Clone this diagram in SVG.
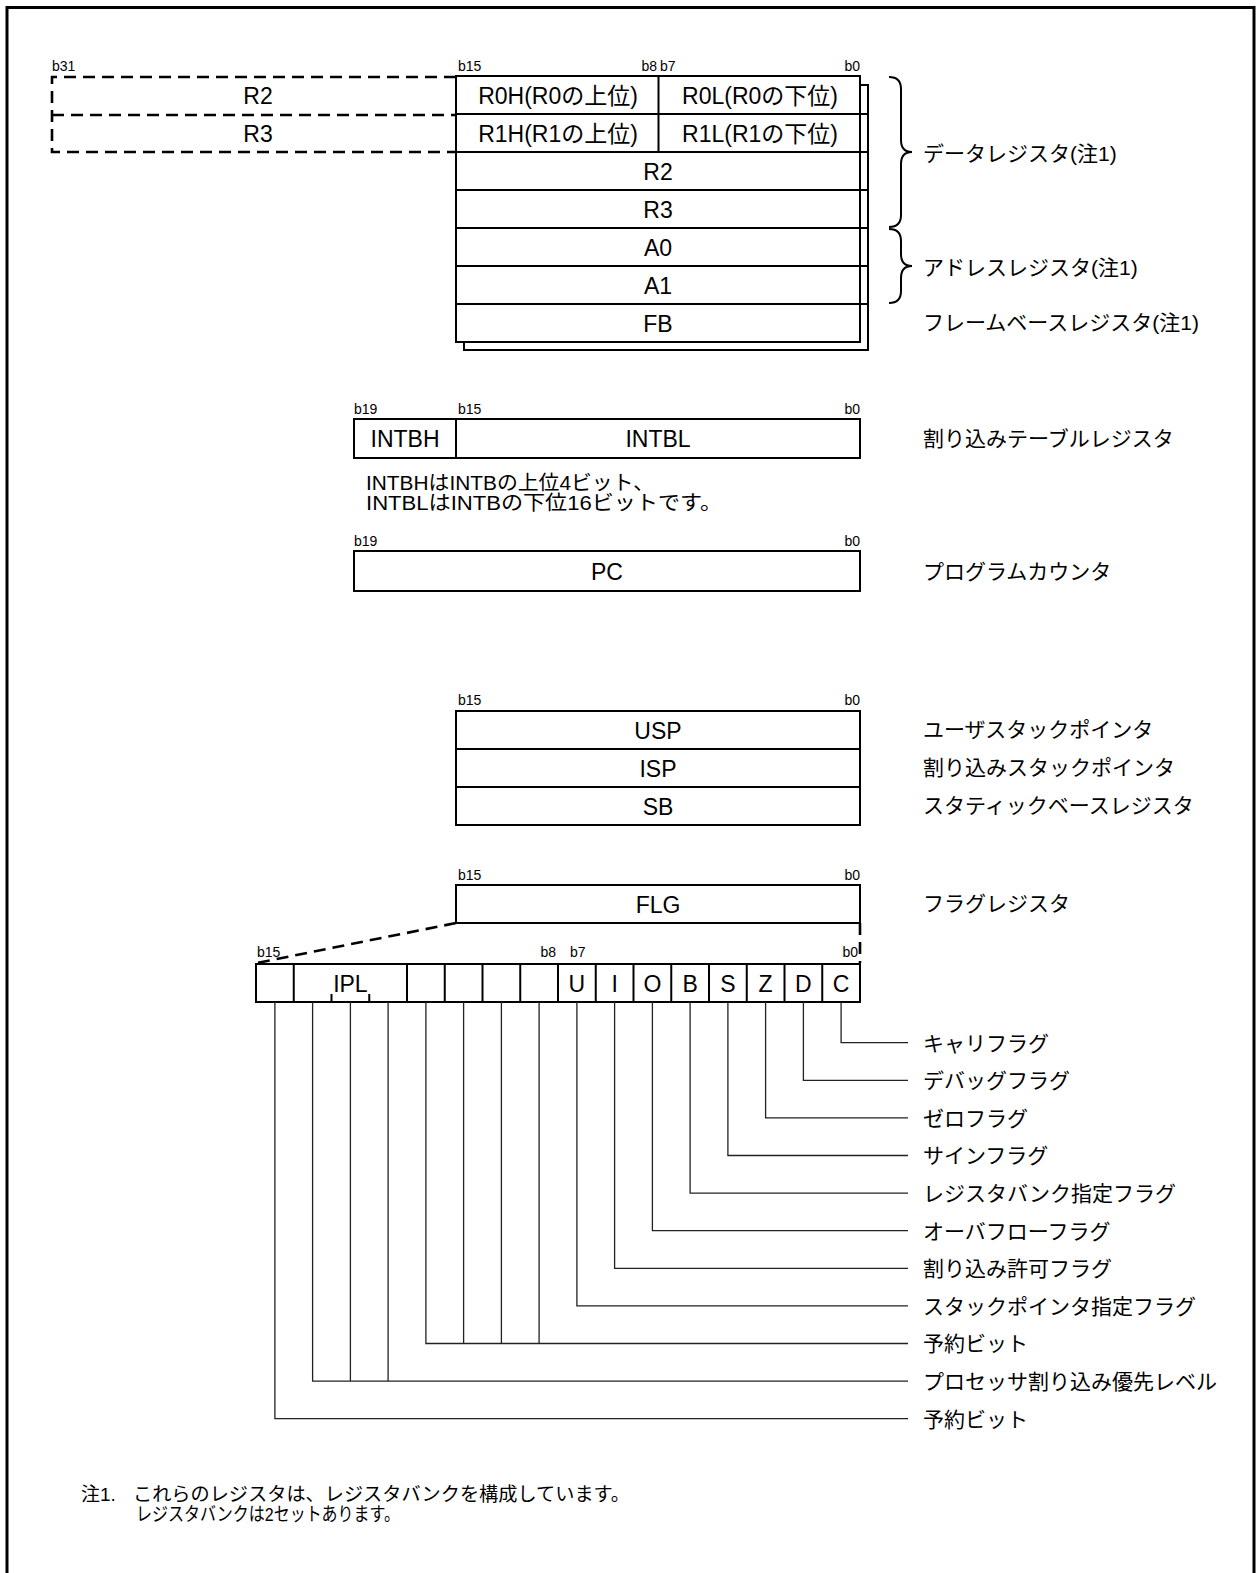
<svg xmlns="http://www.w3.org/2000/svg" width="1259" height="1573" viewBox="0 0 1259 1573">
<defs>
<style>
text{font-family:"Liberation Sans","Noto Sans CJK JP",sans-serif;fill:#000}
.reg{font-size:23px;text-anchor:middle}
.bit{font-size:14px}
.bitr{font-size:14px;text-anchor:end}
.lbl{font-size:21px}
.note{font-size:20.5px}
.fn{font-size:19px}
.box{fill:#fff;stroke:#000;stroke-width:2}
.ln{fill:none;stroke:#000;stroke-width:2}
.dash{fill:none;stroke:#000;stroke-width:2.6;stroke-dasharray:12 7}
.lead{fill:none;stroke:#222;stroke-width:1.3}
</style>
</defs>
<rect x="0" y="0" width="1259" height="1573" fill="#fff"/>
<path d="M7,1573 V7.5 H1254 V1573" fill="none" stroke="#000" stroke-width="3"/>

<g id="bank-shadow">
<rect x="464" y="85" width="404" height="265" class="box"/>
</g>

<g id="data-address-registers">
<rect x="456" y="76" width="404" height="266" class="box"/>
<path class="ln" d="M456,114 H868 M456,152 H868 M456,190 H868 M456,228 H868 M456,266 H868 M456,304 H868 M658.5,76 V152"/>
<text class="reg" x="558" y="103.5">R0H(R0の上位)</text>
<text class="reg" x="760" y="103.5">R0L(R0の下位)</text>
<text class="reg" x="558" y="141.5">R1H(R1の上位)</text>
<text class="reg" x="760" y="141.5">R1L(R1の下位)</text>
<text class="reg" x="658" y="179.5">R2</text>
<text class="reg" x="658" y="217.5">R3</text>
<text class="reg" x="658" y="255.5">A0</text>
<text class="reg" x="658" y="293.5">A1</text>
<text class="reg" x="658" y="331.5">FB</text>
<text class="bit" x="458" y="71">b15</text>
<text class="bitr" x="657" y="71">b8</text>
<text class="bit" x="660" y="71">b7</text>
<text class="bitr" x="860" y="71">b0</text>
</g>

<g id="ext-32bit">
<path class="dash" d="M456,77 H52 V152 H456 M52,115 H456"/>
<text class="reg" x="258" y="103.5">R2</text>
<text class="reg" x="258" y="141.5">R3</text>
<text class="bit" x="52" y="71">b31</text>
</g>

<g id="braces">
<path class="ln" d="M889,77 C897,77 901,81 901,89 L901,140 C901,148 905,152 912,152 C905,152 901,156 901,164 L901,215 C901,223 897,227 889,227"/>
<path class="ln" d="M889,229 C897,229 901,233 901,241 L901,254 C901,262 905,266 912,266 C905,266 901,270 901,278 L901,291 C901,299 897,303 889,303"/>
<text class="lbl" x="923" y="161">データレジスタ(注1)</text>
<text class="lbl" x="923" y="275">アドレスレジスタ(注1)</text>
<text class="lbl" x="923" y="330">フレームベースレジスタ(注1)</text>
</g>

<g id="intb">
<rect x="354" y="419" width="506" height="39" class="box"/>
<path class="ln" d="M456,419 V458"/>
<text class="reg" x="405" y="446.5">INTBH</text>
<text class="reg" x="658" y="446.5">INTBL</text>
<text class="bit" x="354" y="414">b19</text>
<text class="bit" x="458" y="414">b15</text>
<text class="bitr" x="860" y="414">b0</text>
<text class="lbl" x="923" y="446">割り込みテーブルレジスタ</text>
<text class="note" x="366" y="490" textLength="288" lengthAdjust="spacingAndGlyphs">INTBHはINTBの上位4ビット、</text>
<text class="note" x="366" y="510" textLength="356" lengthAdjust="spacingAndGlyphs">INTBLはINTBの下位16ビットです。</text>
</g>

<g id="pc">
<rect x="354" y="551" width="506" height="40" class="box"/>
<text class="reg" x="607" y="579.5">PC</text>
<text class="bit" x="354" y="546">b19</text>
<text class="bitr" x="860" y="546">b0</text>
<text class="lbl" x="923" y="579">プログラムカウンタ</text>
</g>

<g id="stack-pointers">
<rect x="456" y="711" width="404" height="114" class="box"/>
<path class="ln" d="M456,749 H860 M456,787 H860"/>
<text class="reg" x="658" y="738.5">USP</text>
<text class="reg" x="658" y="776.5">ISP</text>
<text class="reg" x="658" y="814.5">SB</text>
<text class="bit" x="458" y="705">b15</text>
<text class="bitr" x="860" y="705">b0</text>
<text class="lbl" x="923" y="737">ユーザスタックポインタ</text>
<text class="lbl" x="923" y="775">割り込みスタックポインタ</text>
<text class="lbl" x="923" y="813">スタティックベースレジスタ</text>
</g>

<g id="flg">
<rect x="456" y="885" width="404" height="38" class="box"/>
<text class="reg" x="658" y="912.5">FLG</text>
<text class="bit" x="458" y="880">b15</text>
<text class="bitr" x="860" y="880">b0</text>
<text class="lbl" x="923" y="911">フラグレジスタ</text>
</g>

<g id="flg-expansion">
<path class="dash" d="M456,923 L257,963 M860,923 V963"/>
</g>

<g id="flg-bits">
<rect x="256" y="964" width="604" height="38" class="box"/>
<path class="ln" d="M293.75,964 V1002 M407,964 V1002 M444.75,964 V1002 M482.5,964 V1002 M520.25,964 V1002 M558,964 V1002 M595.75,964 V1002 M633.5,964 V1002 M671.25,964 V1002 M709,964 V1002 M746.75,964 V1002 M784.5,964 V1002 M822.25,964 V1002 M331.5,994 V1002 M369.25,994 V1002"/>
<text class="reg" x="350.4" y="991.5">IPL</text>
<text class="reg" x="576.9" y="991.5">U</text>
<text class="reg" x="614.6" y="991.5">I</text>
<text class="reg" x="652.4" y="991.5">O</text>
<text class="reg" x="690.1" y="991.5">B</text>
<text class="reg" x="727.9" y="991.5">S</text>
<text class="reg" x="765.6" y="991.5">Z</text>
<text class="reg" x="803.4" y="991.5">D</text>
<text class="reg" x="841.1" y="991.5">C</text>
<text class="bit" x="257" y="957">b15</text>
<text class="bitr" x="556" y="957">b8</text>
<text class="bit" x="570" y="957">b7</text>
<text class="bitr" x="858" y="957">b0</text>
</g>

<g id="connectors">
<path class="lead" d="M841.1,1002 V1042.7 H908"/>
<path class="lead" d="M803.4,1002 V1080.3 H908"/>
<path class="lead" d="M765.6,1002 V1117.9 H908"/>
<path class="lead" d="M727.9,1002 V1155.5 H908"/>
<path class="lead" d="M690.1,1002 V1193.1 H908"/>
<path class="lead" d="M652.4,1002 V1230.7 H908"/>
<path class="lead" d="M614.6,1002 V1268.3 H908"/>
<path class="lead" d="M576.9,1002 V1305.9 H908"/>
<path class="lead" d="M425.9,1002 V1343.5 H908 M463.6,1002 V1343.5 M501.4,1002 V1343.5 M539.1,1002 V1343.5"/>
<path class="lead" d="M312.6,1002 V1381.1 H908 M350.4,1002 V1381.1 M388.1,1002 V1381.1"/>
<path class="lead" d="M274.9,1002 V1418.7 H908"/>
</g>

<g id="flag-labels">
<text class="lbl" x="923" y="1050.5">キャリフラグ</text>
<text class="lbl" x="923" y="1088">デバッグフラグ</text>
<text class="lbl" x="923" y="1125.5">ゼロフラグ</text>
<text class="lbl" x="923" y="1163">サインフラグ</text>
<text class="lbl" x="923" y="1201">レジスタバンク指定フラグ</text>
<text class="lbl" x="923" y="1238.5">オーバフローフラグ</text>
<text class="lbl" x="923" y="1276">割り込み許可フラグ</text>
<text class="lbl" x="923" y="1313.5">スタックポインタ指定フラグ</text>
<text class="lbl" x="923" y="1351">予約ビット</text>
<text class="lbl" x="923" y="1389">プロセッサ割り込み優先レベル</text>
<text class="lbl" x="923" y="1426.5">予約ビット</text>
</g>

<g id="footnote">
<text class="fn" x="81" y="1501">注1.</text>
<text class="fn" x="133" y="1501" textLength="497" lengthAdjust="spacingAndGlyphs">これらのレジスタは、レジスタバンクを構成しています。</text>
<text class="fn" x="136" y="1521" textLength="264" lengthAdjust="spacingAndGlyphs">レジスタバンクは2セットあります。</text>
</g>
</svg>
